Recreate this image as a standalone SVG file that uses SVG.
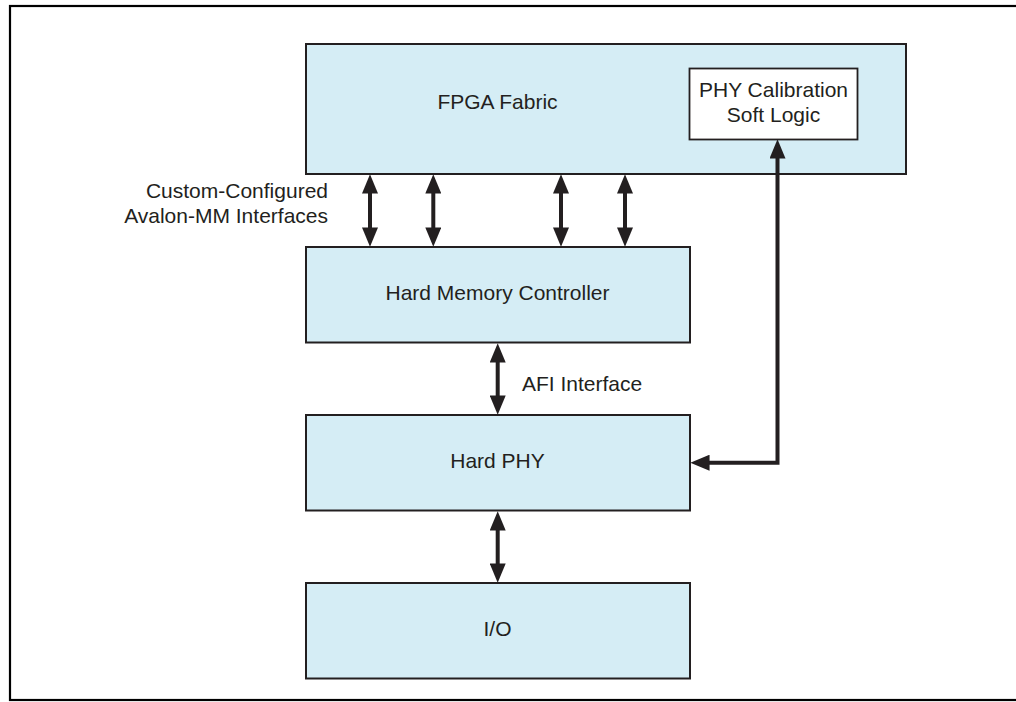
<svg xmlns="http://www.w3.org/2000/svg" width="1016" height="702" viewBox="0 0 1016 702">
  <style>
    .box { fill: #D5EDF5; stroke: #231F20; stroke-width: 2; }
    .wbox { fill: #FFFFFF; stroke: #231F20; stroke-width: 1.8; }
    .lbl { font-family: "Liberation Sans", Arial, sans-serif; font-size: 21px; fill: #231F20; }
    .mid { text-anchor: middle; }
    .end { text-anchor: end; }
    .conn { fill: none; stroke: #231F20; stroke-width: 4; stroke-linejoin: miter; }
  </style>
  <defs>
    <marker id="ah" markerUnits="userSpaceOnUse" markerWidth="20" markerHeight="16" viewBox="0 0 18 15" refX="8" refY="7.5" orient="auto-start-reverse">
      <path d="M0,0 L18,7.5 L0,15 Z" fill="#231F20"/>
    </marker>
  </defs>

  <rect x="10" y="6" width="1012" height="694" fill="none" stroke="#000" stroke-width="2.2"/>

  <g id="fpga-fabric">
    <rect class="box" x="306" y="44" width="600" height="130"/>
    <text class="lbl mid" x="497.5" y="109">FPGA Fabric</text>
  </g>
  <g id="phy-calibration">
    <rect class="wbox" x="689.5" y="68.5" width="168" height="71"/>
    <text class="lbl mid" x="773.5" y="96.7">PHY Calibration</text>
    <text class="lbl mid" x="773.5" y="121.7">Soft Logic</text>
  </g>
  <g id="hard-memory-controller">
    <rect class="box" x="306" y="247" width="384" height="95.5"/>
    <text class="lbl mid" x="497.5" y="300">Hard Memory Controller</text>
  </g>
  <g id="hard-phy">
    <rect class="box" x="306" y="415" width="384" height="95.5"/>
    <text class="lbl mid" x="497.5" y="468.3">Hard PHY</text>
  </g>
  <g id="io">
    <rect class="box" x="306" y="583" width="384" height="95.5"/>
    <text class="lbl mid" x="497.5" y="635.7">I/O</text>
  </g>

  <g id="labels">
    <text class="lbl end" x="328" y="198.3">Custom-Configured</text>
    <text class="lbl end" x="328" y="222.7">Avalon-MM Interfaces</text>
    <text class="lbl" x="522" y="391">AFI Interface</text>
  </g>

  <g id="connectors">
    <line class="conn" x1="370" y1="185" x2="370" y2="236" marker-start="url(#ah)" marker-end="url(#ah)"/>
    <line class="conn" x1="433.3" y1="185" x2="433.3" y2="236" marker-start="url(#ah)" marker-end="url(#ah)"/>
    <line class="conn" x1="561" y1="185" x2="561" y2="236" marker-start="url(#ah)" marker-end="url(#ah)"/>
    <line class="conn" x1="625" y1="185" x2="625" y2="236" marker-start="url(#ah)" marker-end="url(#ah)"/>
    <line class="conn" x1="497.7" y1="354" x2="497.7" y2="404" marker-start="url(#ah)" marker-end="url(#ah)"/>
    <line class="conn" x1="497.7" y1="522" x2="497.7" y2="572" marker-start="url(#ah)" marker-end="url(#ah)"/>
    <path class="conn" d="M701,462.7 H777.5 V150" marker-start="url(#ah)" marker-end="url(#ah)"/>
  </g>
</svg>
